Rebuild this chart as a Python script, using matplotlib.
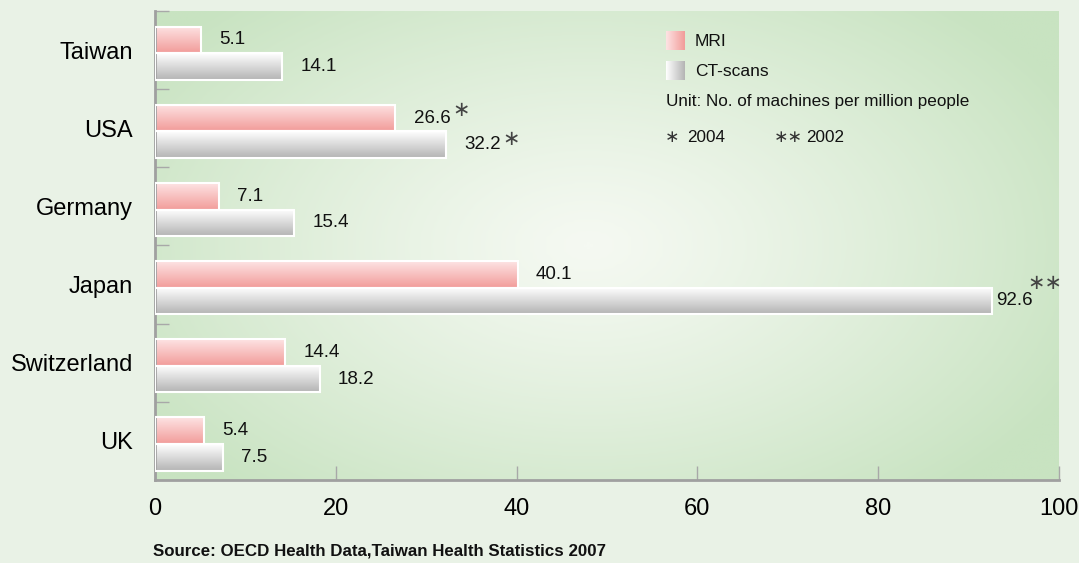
import matplotlib.pyplot as plt
import numpy as np
from matplotlib.colors import LinearSegmentedColormap

countries = ["Taiwan", "USA", "Germany", "Japan", "Switzerland", "UK"]
mri = [5.1, 26.6, 7.1, 40.1, 14.4, 5.4]
ct = [14.1, 32.2, 15.4, 92.6, 18.2, 7.5]
mri_note = ["", "∗", "", "", "", ""]
ct_note = ["", "∗", "", "∗∗", "", ""]
xticks = [0, 20, 40, 60, 80, 100]

plt.rcParams['font.family'] = ['Liberation Sans', 'DejaVu Sans']

fig = plt.figure(figsize=(10.79, 5.63), dpi=100)
fig.patch.set_facecolor('#e9f2e6')
ax = fig.add_axes([155 / 1079, 1 - 480 / 563, 904 / 1079, 469 / 563])

n = len(countries)
ax.set_xlim(0, 100)
ax.set_ylim(n, 0)

# radial background
gx, gy = np.meshgrid(np.linspace(0, 1, 300), np.linspace(0, 1, 200))
r = np.sqrt(((gx - 0.48) / 0.6) ** 2 + ((gy - 0.5) / 0.7) ** 2)
r = np.clip(r, 0, 1) ** 1.2
bg = LinearSegmentedColormap.from_list('bg', ['#f5f9f2', '#c8e3c1'])
ax.imshow(r, cmap=bg, extent=[0, 100, n, 0], aspect='auto', zorder=0,
          interpolation='bilinear')

pink = LinearSegmentedColormap.from_list('pink', ['#fde3e3', '#f29c9a'])
gray = LinearSegmentedColormap.from_list('gray', ['#ffffff', '#b4b4b4'])
vgrad = np.linspace(0, 1, 50).reshape(-1, 1)

h = 0.34
fs = 13.5
for i in range(n):
    top_m = i + 0.2
    top_c = top_m + h
    for val, top, cm in [(mri[i], top_m, pink), (ct[i], top_c, gray)]:
        ax.imshow(vgrad, cmap=cm, extent=[0, val, top + h, top], aspect='auto',
                  zorder=2, interpolation='bilinear')
        ax.add_patch(plt.Rectangle((0, top), val, h, fill=False,
                                   edgecolor='white', lw=1.5, zorder=3))
    ax.text(mri[i] + 2.0, top_m + h / 2, f"{mri[i]}", va='center', ha='left',
            fontsize=fs, color='#111111', zorder=4)
    if ct[i] > 90:
        ax.text(ct[i] + 0.5, top_c + h / 2, f"{ct[i]}", va='center', ha='left',
                fontsize=fs, color='#111111', zorder=4)
    else:
        ax.text(ct[i] + 2.0, top_c + h / 2, f"{ct[i]}", va='center', ha='left',
                fontsize=fs, color='#111111', zorder=4)
    if mri_note[i]:
        ax.text(mri[i] + 6.3, top_m + h / 2 - 0.1, mri_note[i], va='center',
                ha='left', fontsize=15, color='#444444', zorder=4)
    if ct_note[i] == "∗":
        ax.text(ct[i] + 6.2, top_c + h / 2 - 0.07, ct_note[i], va='center',
                ha='left', fontsize=15, color='#444444', zorder=4)
    elif ct_note[i]:
        ax.text(ct[i] + 3.9, top_c - 0.05, ct_note[i], va='center',
                ha='left', fontsize=15, color='#444444', zorder=4)

ax.set_yticks([i + 0.5 for i in range(n)])
ax.set_yticklabels(countries, fontsize=17)
ax.set_yticks(list(range(n)), minor=True)
ax.tick_params(axis='y', which='major', length=0, pad=16)
ax.tick_params(axis='y', which='minor', direction='in', length=10,
               color='#a8a8a8', width=1)
ax.set_xticks(xticks)
ax.set_xticklabels([str(t) for t in xticks], fontsize=17)
ax.tick_params(axis='x', direction='in', length=10, color='#a8a8a8',
               width=1, pad=13)

for s in ['top', 'right']:
    ax.spines[s].set_visible(False)
ax.spines['left'].set_color('#a0a0a0')
ax.spines['left'].set_linewidth(2)
ax.spines['bottom'].set_color('#a0a0a0')
ax.spines['bottom'].set_linewidth(2)

# legend
hgrad = np.linspace(0, 1, 50).reshape(1, -1)
lx0, lx1 = 666 / 1079, 685 / 1079
for cm, ytop, label in [(pink, 31, "MRI"), (gray, 61, "CT-scans")]:
    lax = fig.add_axes([lx0, 1 - (ytop + 19) / 563, lx1 - lx0, 19 / 563])
    lax.imshow(hgrad, cmap=cm, aspect='auto', interpolation='bilinear')
    lax.axis('off')
    fig.text(695 / 1079, 1 - (ytop + 10) / 563, label, fontsize=12.5,
             va='center', ha='left', color='#111111')
fig.text(666 / 1079, 1 - 102 / 563, "Unit: No. of machines per million people",
         fontsize=12.3, va='center', ha='left', color='#111111')
fig.text(665 / 1079, 1 - 137 / 563, "∗", fontsize=12.5, va='center',
         ha='left', color='#333333')
fig.text(687 / 1079, 1 - 137 / 563, "2004", fontsize=12.3, va='center',
         ha='left', color='#111111')
fig.text(774 / 1079, 1 - 137 / 563, "∗∗", fontsize=12.5, va='center',
         ha='left', color='#333333')
fig.text(806 / 1079, 1 - 137 / 563, "2002", fontsize=12.3, va='center',
         ha='left', color='#111111')

fig.text(153 / 1079, 1 - 551 / 563,
         "Source: OECD Health Data,Taiwan Health Statistics 2007",
         fontsize=12.2, fontweight='bold', va='center', ha='left',
         color='#111111')

fig.savefig('out.png', dpi=100, facecolor=fig.get_facecolor())
